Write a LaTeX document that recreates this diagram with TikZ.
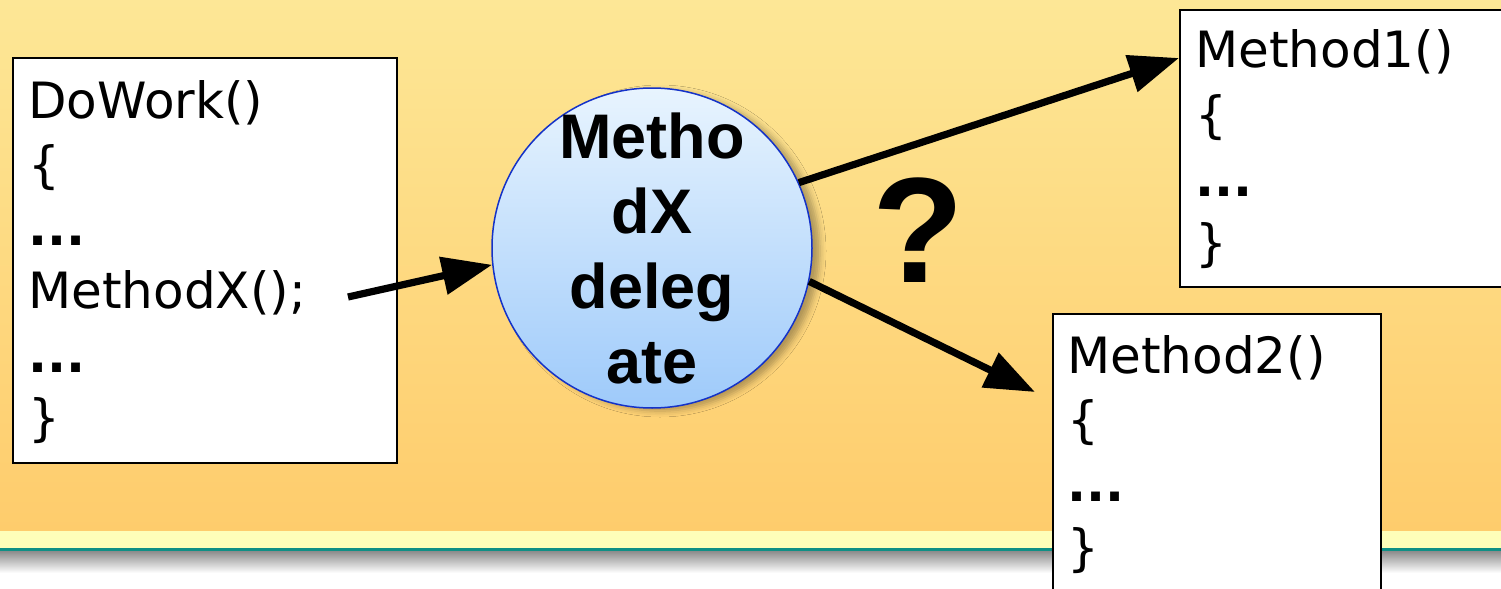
\documentclass[tikz,border=0pt]{standalone}
\usepackage{fontspec}
\setmainfont{DejaVu Sans}
\newfontfamily\labelfont{Liberation Sans}
\usetikzlibrary{arrows.meta,shadows.blur}

\definecolor{bgtop}{RGB}{253,231,150}
\definecolor{bgbottom}{RGB}{254,204,108}
\definecolor{stripcolor}{RGB}{254,254,185}
\definecolor{rulecolor}{RGB}{14,143,133}
\definecolor{shadowgray}{RGB}{140,140,140}
\definecolor{delegtop}{RGB}{232,244,254}
\definecolor{delegbottom}{RGB}{158,202,250}
\definecolor{delegedge}{RGB}{20,50,200}

\newcommand\codedots{{\bfseries...}}

\tikzset{
  codebox/.style={draw=black, line width=1pt, fill=white, inner sep=0pt, anchor=north west},
  codeline/.style={anchor=base west, inner sep=0pt, font=\fontsize{25pt}{30pt}\selectfont},
  delegate/.style={circle, draw=delegedge, line width=0.75pt, inner sep=0pt, minimum size=160pt,
    top color=delegtop, bottom color=delegbottom,
    blur shadow={shadow xshift=4pt, shadow yshift=-1.5pt, shadow blur radius=3pt, shadow opacity=30}},
  delegtext/.style={align=center, inner sep=0pt, font=\labelfont\bfseries\fontsize{31.5pt}{37.5pt}\selectfont},
  flow/.style={line width=3.6pt, -{Triangle[length=25pt,width=18.5pt]}},
}

\begin{document}
\begin{tikzpicture}[x=0.5pt,y=-0.5pt]
  \useasboundingbox (0,0) rectangle (1501,589);
  \clip (0,0) rectangle (1501,589);

  % slide background
  \shade[top color=bgtop, bottom color=bgbottom] (0,0) rectangle (1501,531);
  \fill[stripcolor] (0,531) rectangle (1501,548);
  \fill[rulecolor] (0,548) rectangle (1501,551);
  \shade[top color=shadowgray, bottom color=white] (0,551) rectangle (1501,573);

  % code boxes
  \node[codebox, minimum width=192pt, minimum height=202.5pt] (dowork) at (12,57) {};
  \node[codebox, minimum width=200pt, minimum height=138.5pt] (method1) at (1179,9) {};
  \node[codebox, minimum width=164pt, minimum height=150pt] (method2) at (1052,313) {};

  \foreach \txt [count=\i from 0] in {DoWork(), \{, \codedots, MethodX();, \codedots, \}}
    \node[codeline] (dowork-\i) at (28,{119+63.3*\i}) {\txt};
  \foreach \txt [count=\i from 0] in {Method1(), \{, \codedots, \}}
    \node[codeline] (method1-\i) at (1195,{68+64*\i}) {\txt};
  \foreach \txt [count=\i from 0] in {Method2(), \{, \codedots, \}}
    \node[codeline] (method2-\i) at (1067,{373+64*\i}) {\txt};

  % the delegate
  \node[delegate] (deleg) at (652,248) {};
  \node[delegtext] (delegname) at (deleg.center) {Metho\\dX\\deleg\\ate};

  \node[anchor=base, inner sep=0pt, font=\labelfont\bfseries\fontsize{75pt}{75pt}\selectfont] (which) at (918,282) {?};

  % calls
  \coordinate (callsite) at (348,297);
  \coordinate (method1in) at (1179,58);
  \coordinate (method2in) at (1035,392);
  \draw[flow] (callsite) -- (deleg.186);
  \draw[flow] (deleg.24) -- (method1in);
  \draw[flow] (deleg.-12) -- (method2in);
\end{tikzpicture}
\end{document}
